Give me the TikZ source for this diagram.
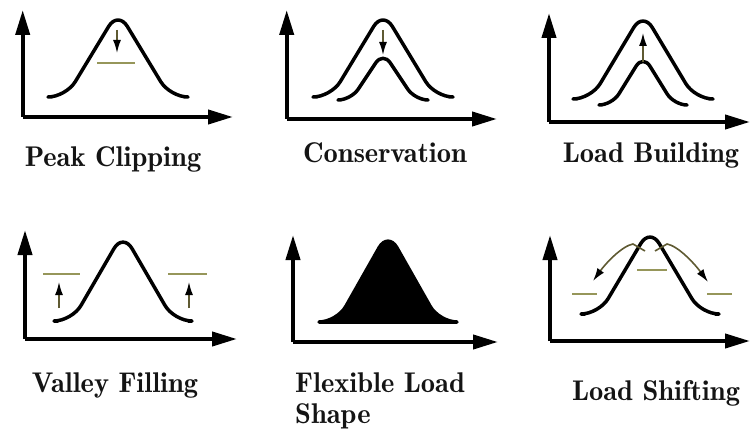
\documentclass[tikz,border=0pt]{standalone}
\usepackage{fontspec}
\newfontfamily\lblfont{lmromandemi10-regular.otf}
\usetikzlibrary{arrows.meta}
\definecolor{olivel}{RGB}{150,150,90}
\definecolor{olived}{RGB}{95,90,50}
\newcommand\mybell[5]{(#1-#3,#2) -- (#1-#3+#5,#2) -- (#1,#4) -- (#1+#3-#5,#2) -- (#1+#3,#2)}
\tikzset{
  axis/.style={line width=4pt,-{Triangle[length=25pt,width=14pt]}},
  curve/.style={line width=3.5pt,rounded corners=18pt,line cap=round,line join=round},
  level/.style={line width=2pt,draw=olivel},
  small/.style={line width=1.6pt,draw=olived,-{Latex[length=13pt,width=8pt,color=black]}},
  lbl/.style={font=\lblfont\fontsize{28.5}{33}\selectfont,anchor=base,inner sep=0pt,text=black!92}
}
\begin{document}
\begin{tikzpicture}[x=1pt,y=-1pt]
\useasboundingbox (0,0) rectangle (751,430);
% ---------- Peak Clipping
\coordinate (o1) at (22.7,117);
\draw[axis] (o1) -- (22.7,10);
\draw[axis] (o1) -- (233,117);
\draw[curve] \mybell{118}{97}{66}{11}{14};
\draw[level] (97,63) -- (135,63);
\draw[small] (117,30) -- (117,53);
\node[lbl] (l1) at (113,167) {Peak Clipping};
% ---------- Conservation
\coordinate (o2) at (286.7,119);
\draw[axis] (o2) -- (286.7,10);
\draw[axis] (o2) -- (497,119);
\draw[curve] \mybell{383}{97}{66}{11}{14};
\draw[curve,rounded corners=13pt] \mybell{383}{100}{42}{52}{10};
\draw[small] (383,30) -- (383,55);
\node[lbl] (l2) at (385,163) {Conservation};
% ---------- Load Building
\coordinate (o3) at (549,122);
\draw[axis] (o3) -- (549,13);
\draw[axis] (o3) -- (750,122);
\draw[curve] \mybell{643}{99}{66}{12}{14};
\draw[curve,rounded corners=13pt] \mybell{643}{105}{41}{55}{10};
\draw[small] (643,62) -- (643,33);
\node[lbl] (l3) at (651,163) {Load Building};
% ---------- Valley Filling
\coordinate (o4) at (25,339);
\draw[axis] (o4) -- (25,230);
\draw[axis] (o4) -- (237,339);
\draw[curve] \mybell{123}{321}{65}{233}{14};
\draw[level] (43,274) -- (80,274);
\draw[level] (168,274) -- (207,274);
\draw[small] (59,308) -- (59,282);
\draw[small] (189,308) -- (189,282);
\node[lbl] (l4) at (115,392) {Valley Filling};
% ---------- Flexible Load Shape
\coordinate (o5) at (293,342);
\draw[axis] (o5) -- (293,235);
\draw[axis] (o5) -- (498,342);
\draw[curve,fill=black] \mybell{388}{322}{65}{232}{14} -- cycle;
\node[lbl,anchor=base west] (l5a) at (295,392) {Flexible Load};
\node[lbl,anchor=base west] (l5b) at (295,423) {Shape};
% ---------- Load Shifting
\coordinate (o6) at (550,341);
\draw[axis] (o6) -- (550,235);
\draw[axis] (o6) -- (750,341);
\draw[curve] \mybell{650}{314}{65}{228}{14};
\draw[level] (637,270) -- (667,270);
\draw[level] (572,294) -- (597,294);
\draw[level] (707,294) -- (732,294);
\draw[small] (645,251) -- (633,244) .. controls (622,246) and (606,263) .. (593,281);
\draw[small] (655,251) -- (667,244) .. controls (678,246) and (694,263) .. (708,282);
\node[lbl] (l6) at (656,400) {Load Shifting};
\end{tikzpicture}
\end{document}
